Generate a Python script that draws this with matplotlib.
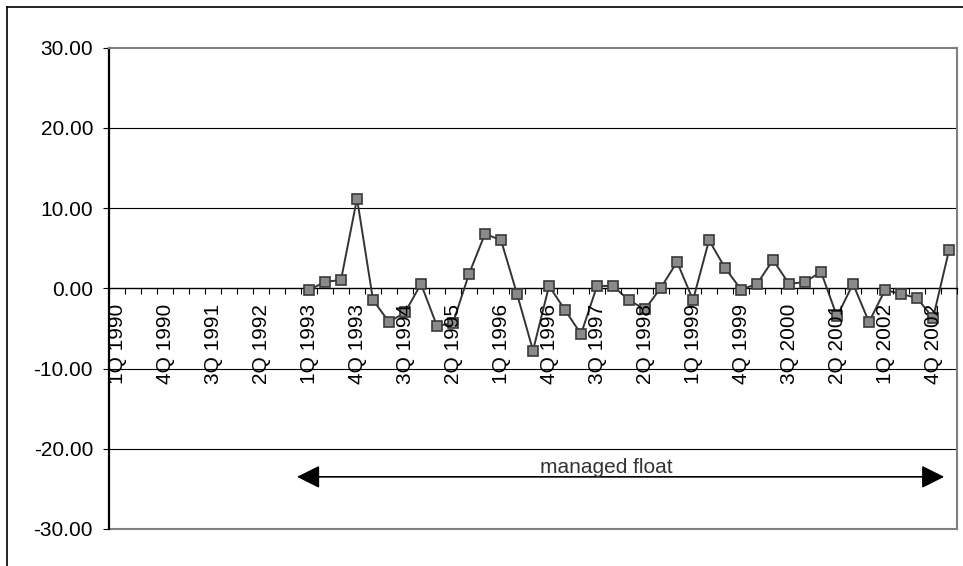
import numpy as np
import matplotlib
matplotlib.use("Agg")
import matplotlib.pyplot as plt
from matplotlib.lines import Line2D
from matplotlib.patches import FancyArrowPatch

plt.rcParams['font.family'] = ['Liberation Sans', 'DejaVu Sans']

# quarters 1Q 1990 .. 1Q 2003
quarters = [f"{q}Q {y}" for y in range(1990, 2004) for q in range(1, 5)][:53]

# series starts at 1Q 1993 (nothing before)
values = [np.nan] * 12 + [
    -0.2, 0.8, 1.05, 11.2, -1.45, -4.2, -3.0, 0.55, -4.7, -4.3,
    1.8, 6.8, 6.0, -0.7, -7.75, 0.3, -2.7, -5.7, 0.3, 0.3,
    -1.5, -2.6, 0.1, 3.3, -1.45, 6.0, 2.55, -0.15, 0.55, 3.55,
    0.55, 0.8, 2.05, -3.5, 0.55, -4.2, -0.2, -0.7, -1.2, -3.7,
    4.75,
]

arrow_from = "1Q 1993"
arrow_to = "1Q 2003"
arrow_level = -23.5
arrow_text = "managed float"

x = np.arange(len(quarters))

fig = plt.figure(figsize=(9.63, 5.66), dpi=100)
ax = fig.add_axes([0.1132, 0.0654, 0.8806, 0.8503])

# grid lines
for g in [-20, -10, 10, 20]:
    ax.axhline(g, color='black', lw=0.8, zorder=1)

ax.plot(x, values, color='#333333', lw=1.4, marker='s', markersize=7.2,
        markerfacecolor='#8a8a8a', markeredgecolor='#3a3a3a', markeredgewidth=1.2,
        zorder=3)

ax.set_xlim(-0.5, len(quarters) - 0.5)
ax.set_ylim(-30, 30)

# category axis crosses at zero
ax.spines['bottom'].set_position(('data', 0))
ax.spines['bottom'].set_linewidth(1.0)
ax.spines['left'].set_linewidth(1.6)
for s in ['top', 'right']:
    ax.spines[s].set_color('#808080')
    ax.spines[s].set_linewidth(1.5)
ax.axhline(-30, color='#808080', lw=1.5, clip_on=False, zorder=1)

ax.set_yticks([-30, -20, -10, 0, 10, 20, 30])
ax.set_yticklabels([f"{v:.2f}" for v in [-30, -20, -10, 0, 10, 20, 30]])
ax.tick_params(axis='y', direction='out', length=4.5, width=0.8, pad=7, labelsize=15)

lab_pos = x[::3]
ax.set_xticks(lab_pos)
ax.set_xticklabels([quarters[i] for i in lab_pos], rotation=90)
ax.set_xticks(np.arange(-0.5, len(quarters), 1), minor=True)
ax.tick_params(axis='x', which='major', length=0, pad=11, labelsize=15)
ax.tick_params(axis='x', which='minor', direction='out', length=4, width=0.8)
ax.xaxis.set_zorder(4)

# managed float period
i0 = quarters.index(arrow_from) - 0.75
i1 = quarters.index(arrow_to) - 0.3
arr = FancyArrowPatch((i0, arrow_level), (i1, arrow_level),
                      arrowstyle='<|-|>,head_length=14,head_width=7',
                      mutation_scale=1, color='black', lw=1.2,
                      shrinkA=0, shrinkB=0, zorder=5)
ax.add_patch(arr)
ax.text(30.6, arrow_level + 0.5, arrow_text, ha='center', va='baseline',
        fontsize=15, color='#333333', zorder=5)

# outer chart frame
fig.add_artist(Line2D([7 / 963, 1], [1 - 7 / 566, 1 - 7 / 566], color='black', lw=1.2))
fig.add_artist(Line2D([7 / 963, 7 / 963], [0, 1 - 7 / 566], color='black', lw=1.2))

fig.savefig("out.png", dpi=100)
